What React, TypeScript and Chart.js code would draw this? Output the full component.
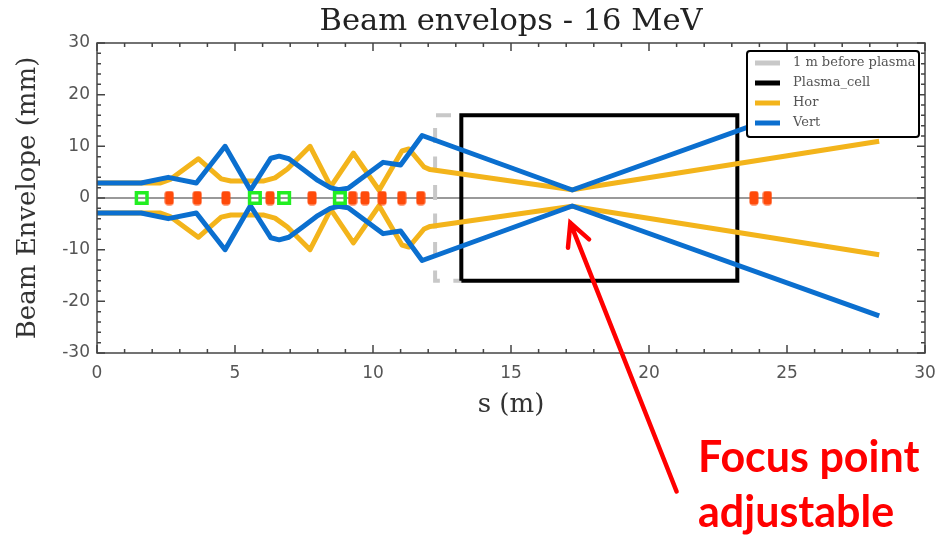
import React, { useEffect, useRef } from 'react';
import { Chart, registerables } from 'chart.js';

Chart.register(...registerables);

const W = 947;
const H = 538;

// ---- text ----
const titleText = 'Beam envelops - 16 MeV';
const xTitle = 's (m)';
const yTitle = 'Beam Envelope (mm)';
const legendLabels = ['1 m before plasma', 'Plasma_cell', 'Hor', 'Vert'];
const annotationLines = ['Focus point', 'adjustable'];

// ---- ticks ----
const xTicks = [0, 5, 10, 15, 20, 25, 30];
const yTicks = [-30, -20, -10, 0, 10, 20, 30];
const xMinorStep = 1;
const yMinorStep = 2;

// ---- horizontal envelope (Hor) ----
const horS = [0, 2.3, 2.65, 3.67, 4.5, 4.85, 6.05, 6.45, 6.9, 7.72, 8.47, 9.29, 10.22, 11.05, 11.3, 11.85, 12.07, 17.22, 28.34];
const horUpper = [2.9, 2.9, 3.6, 7.6, 3.7, 3.3, 3.3, 3.9, 5.6, 10.0, 2.2, 8.7, 1.5, 9.1, 9.5, 6.0, 5.5, 1.6, 11.0];
const horLower = [-2.9, -2.9, -3.6, -7.6, -3.7, -3.3, -3.3, -3.9, -5.6, -10.0, -2.2, -8.7, -1.5, -9.1, -9.5, -6.0, -5.5, -1.6, -11.0];

// ---- vertical envelope (Vert) ----
const vertS = [0, 1.6, 2.58, 3.6, 4.64, 5.56, 6.3, 6.6, 6.95, 7.5, 8.0, 8.45, 8.75, 9.1, 10.37, 11.0, 11.78, 17.22, 28.34];
const vertUpper = [2.9, 2.9, 4.0, 2.9, 10.0, 1.5, 7.7, 8.1, 7.6, 5.4, 3.4, 2.0, 1.6, 1.9, 6.9, 6.4, 12.1, 1.55, 22.8];
const vertLower = [-2.9, -2.9, -4.0, -2.9, -10.0, -1.5, -7.7, -8.1, -7.6, -5.4, -3.4, -2.0, -1.6, -1.9, -6.9, -6.4, -12.1, -1.55, -22.8];

// ---- 1 m before plasma (dashed outline) ----
const preS = [13.2, 12.25, 12.25, 13.2];
const preV = [16, 16, -16, -16];

// ---- plasma cell outline ----
const cellS = [13.2, 13.2, 23.2, 23.2, 13.2];
const cellV = [-16, 16, 16, -16, -16];

// ---- beamline elements on axis ----
const magnetS = [2.62, 3.63, 4.67, 6.27, 7.79, 9.26, 9.71, 10.33, 11.04, 11.73, 23.8, 24.29];
const screenS = [1.62, 5.72, 6.78, 8.8];

// ---- annotation arrow (data coordinates) ----
const arrowTip = { s: 17.15, v: -4.8 };
const arrowTail = { s: 21.0, v: -56.8 };

const BLUE = '#0b6fcf';
const ORANGE = '#f3b41b';
const GRAY = '#c8c8c8';
const RED_MARK = '#ff4a0a';
const GREEN = '#22ee22';

const pts = (xs: number[], ys: number[]) => xs.map((x, i) => ({ x, y: ys[i] }));

const decorPlugin = {
  id: 'decor',
  beforeDatasetsDraw(chart: any) {
    const { ctx, chartArea: a, scales } = chart;
    const y0 = scales.y.getPixelForValue(0);
    ctx.save();
    ctx.strokeStyle = '#777';
    ctx.lineWidth = 1.5;
    ctx.beginPath();
    ctx.moveTo(a.left, y0);
    ctx.lineTo(a.right, y0);
    ctx.stroke();
    ctx.restore();
  },
  afterDatasetsDraw(chart: any) {
    const { ctx, chartArea: a, scales } = chart;
    const xs = scales.x;
    const ys = scales.y;
    ctx.save();
    ctx.strokeStyle = '#444';
    ctx.lineWidth = 1.5;
    ctx.strokeRect(a.left, a.top, a.right - a.left, a.bottom - a.top);
    ctx.beginPath();
    for (let v = xs.min; v <= xs.max + 1e-9; v += xMinorStep) {
      const px = xs.getPixelForValue(v);
      const len = xTicks.includes(Math.round(v)) ? 8 : 4;
      ctx.moveTo(px, a.bottom);
      ctx.lineTo(px, a.bottom - len);
      ctx.moveTo(px, a.top);
      ctx.lineTo(px, a.top + len);
    }
    for (let v = ys.min; v <= ys.max + 1e-9; v += yMinorStep) {
      const py = ys.getPixelForValue(v);
      const len = yTicks.includes(Math.round(v)) ? 8 : 4;
      ctx.moveTo(a.left, py);
      ctx.lineTo(a.left + len, py);
      ctx.moveTo(a.right, py);
      ctx.lineTo(a.right - len, py);
    }
    ctx.stroke();

    // legend
    const bw = 172;
    const bh = 86;
    const bx = a.right - 6 - bw;
    const by = a.top + 8;
    ctx.fillStyle = '#fff';
    ctx.strokeStyle = '#000';
    ctx.lineWidth = 2;
    ctx.beginPath();
    ctx.roundRect(bx, by, bw, bh, 3);
    ctx.fill();
    ctx.stroke();
    const colors = [GRAY, '#000', ORANGE, BLUE];
    ctx.font = '13px "DejaVu Serif"';
    ctx.textBaseline = 'middle';
    ctx.textAlign = 'left';
    legendLabels.forEach((lab, i) => {
      const cy = by + 12 + 20 * i;
      ctx.strokeStyle = colors[i];
      ctx.lineWidth = 5;
      ctx.beginPath();
      ctx.moveTo(bx + 8, cy);
      ctx.lineTo(bx + 33, cy);
      ctx.stroke();
      ctx.fillStyle = '#555';
      ctx.fillText(lab, bx + 46, cy);
    });
    ctx.restore();
  },
  afterDraw(chart: any) {
    const { ctx, scales } = chart;
    const tx = scales.x.getPixelForValue(arrowTip.s);
    const ty = scales.y.getPixelForValue(arrowTip.v);
    const sx = scales.x.getPixelForValue(arrowTail.s);
    const sy = scales.y.getPixelForValue(arrowTail.v);
    ctx.save();
    ctx.strokeStyle = '#ff0000';
    ctx.lineWidth = 4.5;
    ctx.lineCap = 'round';
    ctx.beginPath();
    ctx.moveTo(sx, sy);
    ctx.lineTo(tx, ty);
    const ang = Math.atan2(sy - ty, sx - tx);
    const hl = 25;
    const spread = (27 * Math.PI) / 180;
    ctx.moveTo(tx + hl * Math.cos(ang - spread), ty + hl * Math.sin(ang - spread));
    ctx.lineTo(tx, ty);
    ctx.lineTo(tx + hl * Math.cos(ang + spread), ty + hl * Math.sin(ang + spread));
    ctx.stroke();
    ctx.fillStyle = '#ff0000';
    ctx.font = 'bold 43px Lato';
    ctx.textBaseline = 'alphabetic';
    ctx.textAlign = 'left';
    ctx.fillText(annotationLines[0], 698, 472);
    ctx.fillText(annotationLines[1], 698, 527);
    ctx.restore();
  },
};

export default function App() {
  const ref = useRef<HTMLCanvasElement>(null);
  useEffect(() => {
    const canvas = ref.current;
    if (!canvas) return;
    const red = document.createElement('canvas');
    red.width = 10;
    red.height = 15;
    const rc = red.getContext('2d')!;
    rc.fillStyle = RED_MARK;
    rc.beginPath();
    rc.roundRect(0.5, 0.5, 9, 14, 3);
    rc.fill();

    const tickFont = { family: '"DejaVu Sans"', size: 17 };
    const chart = new Chart(canvas, {
      type: 'scatter',
      data: {
        datasets: [
          {
            label: 'magnets',
            data: magnetS.map((s) => ({ x: s, y: 0 })),
            pointStyle: red as any,
            pointRadius: 7,
            showLine: false,
            order: 0,
          },
          {
            label: 'screens',
            data: screenS.map((s) => ({ x: s, y: 0 })),
            pointStyle: 'rect',
            pointRadius: 7.5,
            borderColor: GREEN,
            backgroundColor: 'rgba(0,0,0,0)',
            borderWidth: 3.5,
            showLine: false,
            order: 0,
          },
          {
            label: legendLabels[3],
            data: pts(vertS, vertUpper),
            showLine: true,
            borderColor: BLUE,
            borderWidth: 5,
            pointRadius: 0,
            borderJoinStyle: 'round',
            order: 1,
          },
          {
            label: legendLabels[3] + ' lower',
            data: pts(vertS, vertLower),
            showLine: true,
            borderColor: BLUE,
            borderWidth: 5,
            pointRadius: 0,
            borderJoinStyle: 'round',
            order: 1,
          },
          {
            label: legendLabels[2],
            data: pts(horS, horUpper),
            showLine: true,
            borderColor: ORANGE,
            borderWidth: 5,
            pointRadius: 0,
            borderJoinStyle: 'round',
            order: 2,
          },
          {
            label: legendLabels[2] + ' lower',
            data: pts(horS, horLower),
            showLine: true,
            borderColor: ORANGE,
            borderWidth: 5,
            pointRadius: 0,
            borderJoinStyle: 'round',
            order: 2,
          },
          {
            label: legendLabels[1],
            data: pts(cellS, cellV),
            showLine: true,
            borderColor: '#000',
            borderWidth: 4,
            pointRadius: 0,
            borderJoinStyle: 'miter',
            order: 3,
          },
          {
            label: legendLabels[0],
            data: pts(preS, preV),
            showLine: true,
            borderColor: GRAY,
            borderWidth: 4,
            borderDash: [15, 13.5],
            borderDashOffset: 18.2,
            pointRadius: 0,
            order: 4,
          },
        ],
      } as any,
      options: {
        responsive: false,
        animation: false,
        events: [],
        layout: { padding: { left: 0, top: 0, right: 22, bottom: 117 } },
        plugins: {
          legend: { display: false },
          tooltip: { enabled: false },
          title: {
            display: true,
            fullSize: false,
            text: titleText,
            color: '#222',
            font: { family: '"DejaVu Serif"', size: 30.5, weight: 'normal', lineHeight: 1.2 },
            padding: { top: 4, bottom: 2.4 },
          },
        },
        scales: {
          x: {
            type: 'linear',
            min: 0,
            max: 30,
            afterBuildTicks: (s: any) => {
              s.ticks = xTicks.map((v) => ({ value: v }));
            },
            afterFit: (s: any) => {
              s.height = 68;
              s.paddingLeft = 0;
              s.paddingRight = 0;
            },
            grid: { display: false, drawTicks: false },
            border: { display: false },
            ticks: { font: tickFont, color: '#555', padding: 10, maxRotation: 0, autoSkip: false },
            title: {
              display: true,
              text: xTitle,
              color: '#333',
              font: { family: '"DejaVu Serif"', size: 26, lineHeight: 1.2 },
              padding: { top: 0, bottom: 0 },
            },
          },
          y: {
            type: 'linear',
            min: -30,
            max: 30,
            afterBuildTicks: (s: any) => {
              s.ticks = yTicks.map((v) => ({ value: v }));
            },
            afterFit: (s: any) => {
              s.width = 97;
              s.paddingTop = 0;
              s.paddingBottom = 0;
            },
            grid: { display: false, drawTicks: false },
            border: { display: false },
            ticks: { font: tickFont, color: '#555', padding: 7 },
            title: {
              display: true,
              text: yTitle,
              color: '#333',
              font: { family: '"DejaVu Serif"', size: 26, lineHeight: 1.2 },
              padding: { top: 13, bottom: 0 },
            },
          },
        },
      } as any,
      plugins: [decorPlugin],
    });
    return () => chart.destroy();
  }, []);

  return (
    <div style={{ position: 'fixed', left: 0, top: 0, width: W, height: H, background: '#fff' }}>
      <canvas ref={ref} width={W} height={H} style={{ display: 'block', width: W, height: H }} />
    </div>
  );
}
